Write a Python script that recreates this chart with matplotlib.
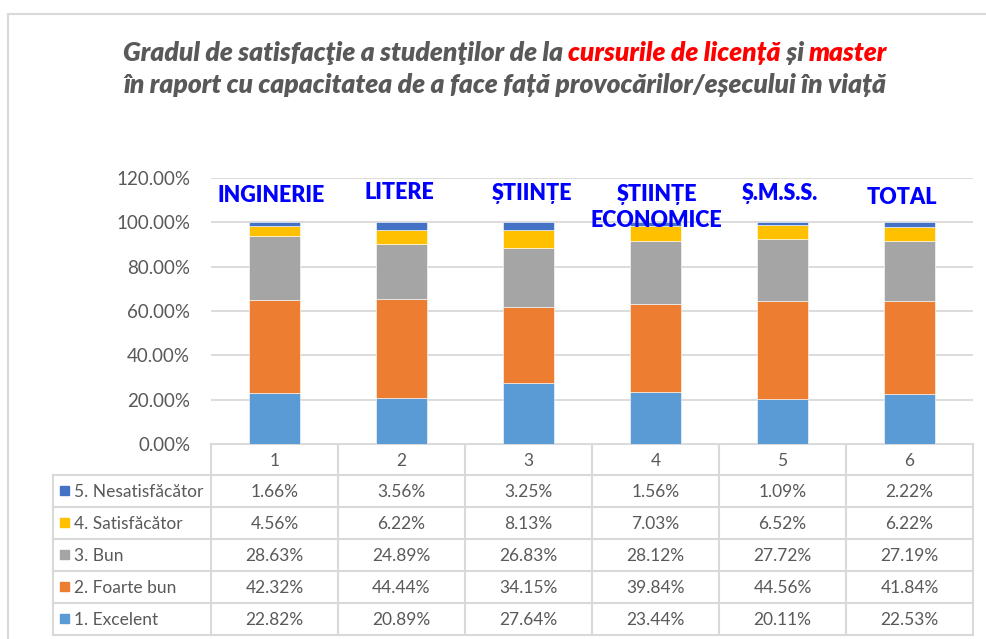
import matplotlib
matplotlib.use("Agg")
import matplotlib.pyplot as plt
from matplotlib.patches import Rectangle
from matplotlib.lines import Line2D

categories = ["1", "2", "3", "4", "5", "6"]
faculty_labels = ["INGINERIE", "LITERE", "ȘTIINȚE", "ȘTIINȚE\nECONOMICE", "Ș.M.S.S.", "TOTAL"]
series_names = ["1. Excelent", "2. Foarte bun", "3. Bun", "4. Satisfăcător", "5. Nesatisfăcător"]
excelent = [22.82, 20.89, 27.64, 23.44, 20.11, 22.53]
foarte_bun = [42.32, 44.44, 34.15, 39.84, 44.56, 41.84]
bun = [28.63, 24.89, 26.83, 28.12, 27.72, 27.19]
satisfacator = [4.56, 6.22, 8.13, 7.03, 6.52, 6.22]
nesatisfacator = [1.66, 3.56, 3.25, 1.56, 1.09, 2.22]
y_ticks = [0, 20, 40, 60, 80, 100, 120]

series_values = [excelent, foarte_bun, bun, satisfacator, nesatisfacator]
series_colors = ["#5B9BD5", "#ED7D31", "#A5A5A5", "#FFC000", "#4472C4"]

GRAY_TEXT = "#595959"
LINE = "#D9D9D9"
FONT = "Lato"

W, H = 987, 639
fig = plt.figure(figsize=(W / 100, H / 100), dpi=100)

# overlay axes in pixel coordinates for the border, title and data table
over = fig.add_axes([0, 0, 1, 1])
over.set_xlim(0, W)
over.set_ylim(H, 0)
over.axis("off")

# plot area in pixels
x0, x1 = 211, 973
y_top, y_zero = 178, 444
col_w = (x1 - x0) / len(categories)

ax = fig.add_axes([x0 / W, 1 - y_zero / H, (x1 - x0) / W, (y_zero - y_top) / H])
ax.set_xlim(-0.5, len(categories) - 0.5)
ax.set_ylim(0, 120)

positions = list(range(len(categories)))
bottom = [0.0] * len(categories)
for name, vals, color in zip(series_names, series_values, series_colors):
    ax.bar(positions, vals, width=0.4, bottom=bottom, color=color,
           edgecolor="white", linewidth=0.4, zorder=3)
    bottom = [b + v for b, v in zip(bottom, vals)]

ax.set_yticks(y_ticks)
ax.set_yticklabels([f"{t:.2f}%" for t in y_ticks], fontsize=13.5,
                   color=GRAY_TEXT, family=FONT)
ax.tick_params(axis="y", length=0, pad=15)
ax.set_xticks([])
ax.grid(axis="y", color=LINE, linewidth=1.3, zorder=0)
for sp in ax.spines.values():
    sp.set_visible(False)

# faculty text boxes above the bars
label_dx = [-0.03, -0.02, 0.03, 0.01, -0.02, -0.06]
label_y = [112, 113.5, 113, 106.5, 113, 111]
for i, lab in enumerate(faculty_labels):
    ax.text(positions[i] + label_dx[i], label_y[i], lab, ha="center", va="center",
            fontsize=15.5, fontweight="heavy", color="#0000FF", family=FONT,
            linespacing=1.3, zorder=5)

# outer chart border (left and top visible)
over.add_line(Line2D([8, 8], [14, H], color=LINE, linewidth=1.5))
over.add_line(Line2D([8, W], [14, 14], color=LINE, linewidth=1.5))

# title with mixed colours, centred line by line
title_lines = [
    [("Gradul de satisfacţie a studenţilor de la ", GRAY_TEXT),
     ("cursurile de licență", "#FF0000"), (" și ", GRAY_TEXT), ("master", "#FF0000")],
    [("în raport cu capacitatea de a face față provocărilor/eșecului în viață", GRAY_TEXT)],
]
title_y = [53, 85]
title_cx = 505
renderer = fig.canvas.get_renderer()
for pieces, ty in zip(title_lines, title_y):
    texts = []
    for s, c in pieces:
        t = over.text(0, ty, s, color=c, fontsize=19, fontweight="heavy",
                      fontstyle="italic", family=FONT, va="center", ha="left")
        texts.append(t)
    widths = [t.get_window_extent(renderer).width for t in texts]
    x = title_cx - sum(widths) / 2
    for t, w in zip(texts, widths):
        t.set_x(x)
        x += w

# data table below the plot
row_h = 32
head_bottom = 475
n_rows = len(series_names)
table_bottom = head_bottom + n_rows * row_h
leg_left = 53
lw = 1.5
# horizontal lines
over.add_line(Line2D([x0, x1], [y_zero, y_zero], color=LINE, linewidth=lw))
for r in range(n_rows + 1):
    yy = head_bottom + r * row_h
    over.add_line(Line2D([leg_left, x1], [yy, yy], color=LINE, linewidth=lw))
# vertical lines
over.add_line(Line2D([leg_left, leg_left], [head_bottom, table_bottom], color=LINE, linewidth=lw))
for c in range(len(categories) + 1):
    xx = x0 + c * col_w
    over.add_line(Line2D([xx, xx], [y_zero, table_bottom], color=LINE, linewidth=lw))

for c, cat in enumerate(categories):
    over.text(x0 + (c + 0.5) * col_w, (y_zero + head_bottom) / 2 + 1, cat,
              ha="center", va="center", fontsize=12.5, color=GRAY_TEXT, family=FONT)

# rows are listed from the top series down to the bottom one
for r, k in enumerate(reversed(range(n_rows))):
    cy = head_bottom + (r + 0.5) * row_h + 1
    over.add_patch(Rectangle((60, cy - 6), 9, 9, color=series_colors[k]))
    over.text(74, cy, series_names[k], ha="left", va="center", fontsize=12.5,
              color=GRAY_TEXT, family=FONT)
    for c, v in enumerate(series_values[k]):
        over.text(x0 + (c + 0.5) * col_w, cy, f"{v:.2f}%", ha="center", va="center",
                  fontsize=12.5, color=GRAY_TEXT, family=FONT)

fig.savefig("out.png", dpi=100)
